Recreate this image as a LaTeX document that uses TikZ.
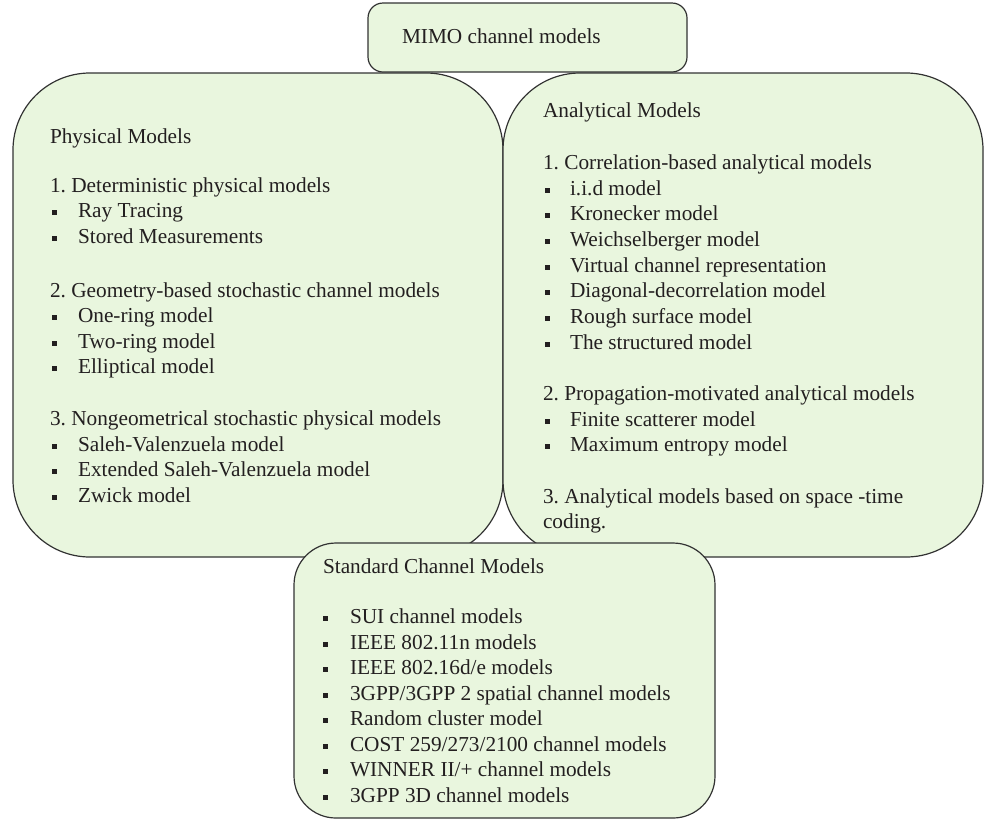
\documentclass[tikz,border=0pt]{standalone}
\usepackage{fontspec}
\setmainfont{Liberation Serif}
\frenchspacing
\definecolor{boxfill}{RGB}{233,246,222}
\definecolor{bordercol}{RGB}{50,50,50}
\definecolor{txtcol}{RGB}{35,31,32}
\newcommand\mainfs{\fontsize{21.3}{25.6}\selectfont\frenchspacing}
\tikzset{
  box/.style={draw=bordercol, fill=boxfill, line width=1.2pt, rounded corners=#1,
    inner sep=0pt, outer sep=0pt, rectangle},
  txt/.style={anchor=base west, inner sep=0pt, outer sep=0pt, text=txtcol, font=\mainfs},
  bul/.style={rectangle, fill=txtcol, draw=none, minimum size=5.5pt, inner sep=0pt, outer sep=0pt},
}
\begin{document}
\begin{tikzpicture}[x=1pt,y=-1pt]
\useasboundingbox (0,0) rectangle (984,820);
% boxes
\node[box=77pt, minimum width=490pt, minimum height=484pt] (phys) at (258,315) {};
\node[box=77pt, minimum width=480pt, minimum height=484pt] (anal) at (743,315) {};
\node[box=42pt, minimum width=421pt, minimum height=275pt] (std) at (504.5,680.5) {};
\node[box=15pt, minimum width=319pt, minimum height=69pt] (top) at (527.5,37.5) {};
\node[txt] (toptxt) at (402,43) {MIMO channel models};
% physical models
\node[txt] (ph0) at (50,143) {Physical Models};
\node[txt] (ph1) at (50,192) {1. Deterministic physical models};
\node[txt] (ph2) at (50,297) {2. Geometry-based stochastic channel models};
\node[txt] (ph3) at (50,425) {3. Nongeometrical stochastic physical models};
\foreach \y/\t [count=\i] in {217/Ray Tracing, 243/Stored Measurements,
    322/One-ring model, 348/Two-ring model, 373/Elliptical model,
    451/Saleh-Valenzuela model, 476/Extended Saleh-Valenzuela model, 502/Zwick model}{
  \node[bul] (pb\i) at (54.5,\y-4.5) {};
  \node[txt] (pi\i) at (78,\y) {\t};
}
% analytical models
\node[txt] (an0) at (543,117) {Analytical Models};
\node[txt] (an1) at (543,169) {1. Correlation-based analytical models};
\node[txt] (an2) at (543,400) {2. Propagation-motivated analytical models};
\node[txt] (an3) at (543,503) {3. Analytical models based on space -time};
\node[txt] (an4) at (543,528) {coding.};
\foreach \y/\t [count=\i] in {195/i.i.d model, 220/Kronecker model, 246/Weichselberger model,
    272/Virtual channel representation, 297/Diagonal-decorrelation model,
    323/Rough surface model, 349/The structured model,
    426/Finite scatterer model, 451/Maximum entropy model}{
  \node[bul] (ab\i) at (547.5,\y-4.5) {};
  \node[txt] (ai\i) at (570,\y) {\t};
}
% standard models
\node[txt] (st0) at (323,573) {Standard Channel Models};
\foreach \y/\t [count=\i] in {623/SUI channel models, 649/IEEE 802.11n models,
    674/IEEE 802.16d{/}e models, 700/3GPP{/}3GPP 2 spatial channel models,
    725/Random cluster model, 751/COST 259{/}273{/}2100 channel models,
    776/WINNER II{/}+ channel models, 802/3GPP 3D channel models}{
  \node[bul] (sb\i) at (325.5,\y-4.5) {};
  \node[txt] (si\i) at (350,\y) {\t};
}
\end{tikzpicture}
\end{document}
